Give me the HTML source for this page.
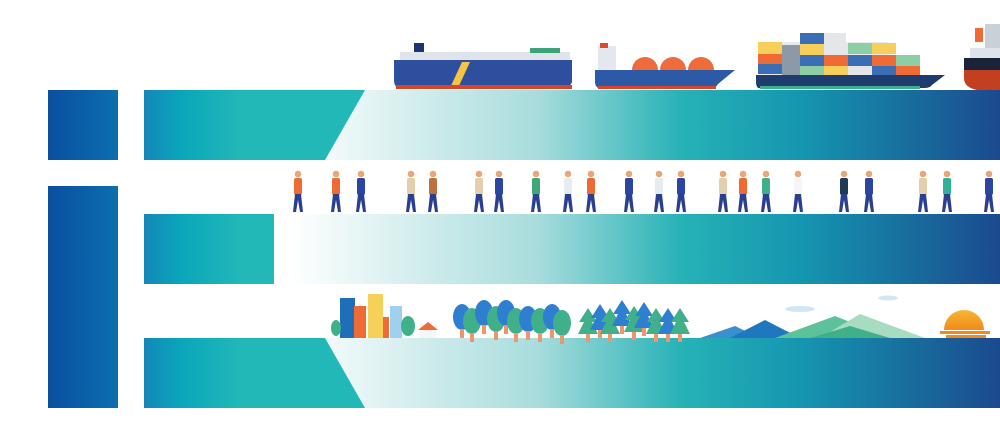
<!DOCTYPE html>
<html><head><meta charset="utf-8"><style>
html,body{margin:0;padding:0;background:#fff;width:1000px;height:430px;overflow:hidden}
svg{display:block}
</style></head><body>
<svg width="1000" height="430" viewBox="0 0 1000 430" xmlns="http://www.w3.org/2000/svg">
<defs>
<linearGradient id="lb" x1="0" x2="1" y1="0" y2="0"><stop offset="0" stop-color="#0a4fa0"/><stop offset="1" stop-color="#0b6fae"/></linearGradient>
<linearGradient id="left" gradientUnits="userSpaceOnUse" x1="144" x2="240" y1="0" y2="0"><stop offset="0" stop-color="#1388b8"/><stop offset="0.4" stop-color="#0aa6ba"/><stop offset="1" stop-color="#22b8b8"/></linearGradient>
<linearGradient id="right" gradientUnits="userSpaceOnUse" x1="290" x2="1000" y1="0" y2="0"><stop offset="0" stop-color="#ffffff"/><stop offset="0.35" stop-color="#a8dcdc"/><stop offset="0.55" stop-color="#27b2b6"/><stop offset="0.72" stop-color="#1596b0"/><stop offset="1" stop-color="#1b4a8e"/></linearGradient>
<linearGradient id="sun" x1="0" x2="0" y1="0" y2="1"><stop offset="0" stop-color="#f7b733"/><stop offset="1" stop-color="#f08a1c"/></linearGradient>
<symbol id="p" viewBox="0 0 14 44" width="14" height="44">
<circle cx="7" cy="4" r="3.3" fill="#e9a777"/>
<rect x="3" y="8" width="8" height="17" rx="2" fill="currentColor"/>
<path d="M4 24 L2 42 L5 42 L7 30 L9 42 L12 42 L10 24Z" fill="#2a3f8f"/>
</symbol>
<symbol id="rt" viewBox="0 0 20 36" width="20" height="36">
<ellipse cx="10" cy="15" rx="9" ry="13" fill="currentColor"/>
<rect x="8" y="27" width="4" height="9" fill="#f0956a"/>
</symbol>
<symbol id="ct" viewBox="0 0 20 36" width="20" height="36">
<path d="M10 2 L19 16 L14 16 L20 28 L0 28 L6 16 L1 16Z" fill="currentColor"/>
<rect x="8" y="28" width="4" height="8" fill="#f0956a"/>
</symbol>
</defs>
<!-- left blocks -->
<rect x="48" y="90" width="70" height="70" fill="url(#lb)"/>
<rect x="48" y="186" width="70" height="222" fill="url(#lb)"/>
<!-- bars right gradient -->
<rect x="144" y="90" width="856" height="70" fill="url(#right)"/>
<rect x="144" y="214" width="856" height="70" fill="url(#right)"/>
<rect x="144" y="338" width="856" height="70" fill="url(#right)"/>
<polygon points="144,90 365,90 325,160 144,160" fill="url(#left)"/>
<rect x="144" y="214" width="130" height="70" fill="url(#left)"/>
<polygon points="144,338 325,338 365,408 144,408" fill="url(#left)"/>

<!-- ships -->
<g>
<rect x="414" y="43" width="10" height="10" fill="#1d3577"/>
<rect x="400" y="52" width="170" height="9" fill="#dfe4ea"/>
<rect x="530" y="48" width="30" height="5" fill="#3aa37a"/>
<path d="M394 60 H572 V82 Q570 88 560 88 H398 Q394 86 394 80Z" fill="#2d4f9e"/>
<polygon points="462,62 470,62 458,88 450,88" fill="#f6c443"/>
<rect x="396" y="85" width="176" height="4" fill="#d9452a"/>
</g>
<g>
<rect x="598" y="46" width="18" height="24" fill="#e4e8ee"/>
<rect x="600" y="43" width="8" height="5" fill="#e0492e"/>
<path d="M632 70 A13 13 0 0 1 658 70Z M660 70 A13 13 0 0 1 686 70Z M688 70 A13 13 0 0 1 714 70Z" fill="#ee6b3c"/>
<path d="M595 70 H735 L718 84 Q716 88 710 88 H598 Q595 86 595 82Z" fill="#2d5aa6"/>
<rect x="598" y="86" width="118" height="3" fill="#d9452a"/>
</g>
<g>
<rect x="758" y="42" width="130" height="48" fill="#e8ebee"/>
<rect x="758" y="42" width="24" height="12" fill="#f6cf5a"/><rect x="758" y="54" width="24" height="10" fill="#ef6b35"/><rect x="758" y="64" width="24" height="10" fill="#3b6fb5"/>
<rect x="782" y="45" width="18" height="32" fill="#8d99a6"/>
<rect x="800" y="33" width="24" height="11" fill="#3b6fb5"/><rect x="824" y="33" width="22" height="11" fill="#e4e6e8"/>
<rect x="800" y="44" width="24" height="11" fill="#f6cf5a"/><rect x="824" y="44" width="24" height="11" fill="#e4e6e8"/><rect x="848" y="43" width="24" height="11" fill="#8ccfa4"/><rect x="872" y="43" width="24" height="11" fill="#f6cf5a"/>
<rect x="800" y="55" width="24" height="11" fill="#3b6fb5"/><rect x="824" y="55" width="24" height="11" fill="#ef6b35"/><rect x="848" y="55" width="24" height="11" fill="#3b6fb5"/><rect x="872" y="55" width="24" height="11" fill="#ef6b35"/><rect x="896" y="55" width="24" height="11" fill="#8ccfa4"/>
<rect x="800" y="66" width="24" height="9" fill="#8ccfa4"/><rect x="824" y="66" width="24" height="9" fill="#f6cf5a"/><rect x="848" y="66" width="24" height="9" fill="#e4e6e8"/><rect x="872" y="66" width="24" height="9" fill="#3b6fb5"/><rect x="896" y="66" width="24" height="9" fill="#ef6b35"/>
<path d="M756 75 H945 L932 85 Q930 88 924 88 H758 Q756 86 756 82Z" fill="#1f3c6e"/>
<rect x="760" y="86" width="160" height="3" fill="#3fb08a"/>
</g>
<g>
<rect x="975" y="28" width="8" height="14" fill="#ef6b35"/>
<rect x="985" y="24" width="15" height="34" fill="#c9d0d8"/>
<rect x="970" y="48" width="30" height="10" fill="#dfe4ea"/>
<path d="M964 58 H1000 V90 H978 Q964 88 964 74Z" fill="#1a2338"/>
<path d="M964 70 H1000 V90 H978 Q964 88 964 78Z" fill="#c2401f"/>
</g>

<!-- people -->
<g>
<use href="#p" x="291" y="170" style="color:#ef6b35"/>
<use href="#p" x="329" y="170" style="color:#ef6b35"/>
<use href="#p" x="354" y="170" style="color:#2a46a0"/>
<use href="#p" x="404" y="170" style="color:#e2cfae"/>
<use href="#p" x="426" y="170" style="color:#b8733e"/>
<use href="#p" x="472" y="170" style="color:#e2cfae"/>
<use href="#p" x="492" y="170" style="color:#2a46a0"/>
<use href="#p" x="529" y="170" style="color:#3fa77a"/>
<use href="#p" x="561" y="170" style="color:#e7ebef"/>
<use href="#p" x="584" y="170" style="color:#ef6b35"/>
<use href="#p" x="622" y="170" style="color:#2a46a0"/>
<use href="#p" x="652" y="170" style="color:#e7ebef"/>
<use href="#p" x="674" y="170" style="color:#2a46a0"/>
<use href="#p" x="716" y="170" style="color:#e2cfae"/>
<use href="#p" x="736" y="170" style="color:#ef6b35"/>
<use href="#p" x="759" y="170" style="color:#3fb08a"/>
<use href="#p" x="791" y="170" style="color:#f3f5f7"/>
<use href="#p" x="837" y="170" style="color:#1f3a55"/>
<use href="#p" x="862" y="170" style="color:#2a46a0"/>
<use href="#p" x="916" y="170" style="color:#e2cfae"/>
<use href="#p" x="940" y="170" style="color:#2fb29a"/>
<use href="#p" x="982" y="170" style="color:#2a46a0"/>
</g>

<!-- city -->
<g>
<rect x="340" y="298" width="15" height="40" fill="#1f6fb8"/>
<rect x="354" y="306" width="12" height="32" fill="#ef6b35"/>
<rect x="368" y="294" width="15" height="44" fill="#f6d15a"/>
<rect x="383" y="317" width="6" height="21" fill="#ef6b35"/>
<rect x="390" y="306" width="12" height="32" fill="#9fd0ef"/>
<ellipse cx="336" cy="328" rx="5" ry="8" fill="#3fb08a"/>
<ellipse cx="408" cy="326" rx="7" ry="10" fill="#3fb08a"/>
<polygon points="418,330 428,322 438,330" fill="#ef6b35"/>
<rect x="420" y="330" width="16" height="8" fill="#f4f6f8"/>
</g>
<!-- trees -->
<g>
<use href="#rt" x="452" y="302" style="color:#2f7fd0"/>
<use href="#rt" x="462" y="306" style="color:#3fb08a"/>
<use href="#rt" x="474" y="298" style="color:#2f7fd0"/>
<use href="#rt" x="486" y="304" style="color:#3fb08a"/>
<use href="#rt" x="496" y="298" style="color:#2f7fd0"/>
<use href="#rt" x="506" y="306" style="color:#3fb08a"/>
<use href="#rt" x="518" y="304" style="color:#2f7fd0"/>
<use href="#rt" x="530" y="306" style="color:#3fb08a"/>
<use href="#rt" x="542" y="302" style="color:#2f7fd0"/>
<use href="#rt" x="552" y="308" style="color:#3fb08a"/>
<use href="#ct" x="578" y="306" style="color:#3fb08a"/>
<use href="#ct" x="590" y="302" style="color:#2f7fd0"/>
<use href="#ct" x="600" y="306" style="color:#3fb08a"/>
<use href="#ct" x="612" y="298" style="color:#2f7fd0"/>
<use href="#ct" x="624" y="304" style="color:#3fb08a"/>
<use href="#ct" x="634" y="300" style="color:#2f7fd0"/>
<use href="#ct" x="646" y="306" style="color:#3fb08a"/>
<use href="#ct" x="658" y="306" style="color:#2f7fd0"/>
<use href="#ct" x="670" y="306" style="color:#3fb08a"/>
</g>
<!-- mountains -->
<polygon points="700,338 735,326 760,338" fill="#3a8fd0"/>
<polygon points="730,338 765,320 800,338" fill="#1f77c0"/>
<polygon points="775,338 835,316 890,338" fill="#5cc29a"/>
<polygon points="820,338 860,314 925,338" fill="#a8dcc0"/>
<polygon points="810,338 850,326 890,338" fill="#3fb08a"/>
<ellipse cx="800" cy="309" rx="15" ry="3" fill="#cfe6f3"/>
<ellipse cx="888" cy="298" rx="10" ry="2.5" fill="#cfe6f3"/>
<!-- sun -->
<path d="M944 330 A20 20 0 0 1 984 330Z" fill="url(#sun)"/>
<rect x="940" y="331" width="50" height="3" fill="#f08a1c"/>
<rect x="946" y="335" width="40" height="3" fill="#f08a1c"/>
</svg>
</body></html>
